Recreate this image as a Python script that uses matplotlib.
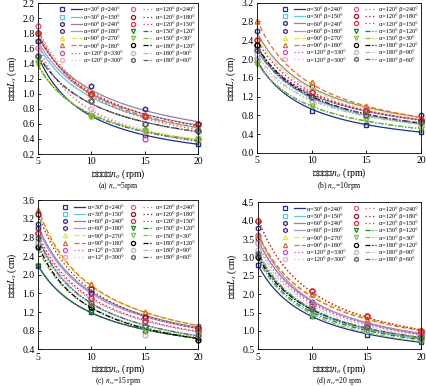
import numpy as np
import matplotlib
matplotlib.use("Agg")
import matplotlib.pyplot as plt
from matplotlib.lines import Line2D
from matplotlib.legend_handler import HandlerTuple

plt.rcParams['font.family'] = ['Liberation Serif', 'Noto Sans CJK SC', 'DejaVu Sans']
plt.rcParams['mathtext.fontset'] = 'stix'

# 油泵转速 (rpm)
speeds = [5, 10, 15, 20]

labels_std = [r"α=30° β=240°", r"α=30° β=150°", r"α=60° β=240°", r"α=60° β=180°",
              r"α=90° β=270°", r"α=90° β=180°", r"α=120° β=330°", r"α=120° β=300°",
              r"α=120° β=240°", r"α=120° β=180°", r"α=120° β=150°", r"α=150° β=120°",
              r"α=150° β=30°", r"α=180° β=120°", r"α=180° β=90°", r"α=180° β=60°"]
labels_c = list(labels_std)
labels_c[6] = r"α=12° β=330°"
labels_c[7] = r"α=12° β=300°"

# 水段长 Ls (cm), 16 series per panel
ls_a = [[1.5, 0.7, 0.45, 0.33], [1.6, 1.0, 0.7, 0.53], [1.7, 1.1, 0.8, 0.6], [1.7, 1.0, 0.7, 0.6],
        [1.4, 0.7, 0.5, 0.4], [1.8, 1.0, 0.7, 0.55], [1.6, 0.9, 0.4, 0.4], [1.6, 0.8, 0.5, 0.4],
        [1.9, 1.0, 0.7, 0.6], [1.8, 1.0, 0.7, 0.6], [1.8, 1.0, 0.7, 0.5], [1.4, 0.7, 0.5, 0.38],
        [1.4, 0.7, 0.5, 0.4], [1.5, 0.9, 0.6, 0.5], [1.5, 0.9, 0.6, 0.5], [1.5, 0.9, 0.6, 0.5]]
ls_b = [[2.0, 0.9, 0.6, 0.45], [2.2, 1.2, 0.8, 0.6], [2.6, 1.4, 0.9, 0.8], [2.2, 1.2, 0.9, 0.7],
        [2.4, 1.4, 1.0, 0.7], [2.8, 1.5, 1.0, 0.75], [2.2, 1.3, 0.9, 0.7], [2.0, 1.1, 0.8, 0.6],
        [2.4, 1.3, 0.9, 0.7], [2.3, 1.2, 0.9, 0.7], [2.4, 1.3, 0.9, 0.7], [1.9, 1.0, 0.7, 0.5],
        [1.9, 1.0, 0.7, 0.5], [2.3, 1.2, 0.8, 0.65], [2.1, 1.1, 0.8, 0.6], [2.2, 1.2, 0.8, 0.65]]
ls_c = [[2.2, 1.2, 0.8, 0.65], [2.8, 1.4, 0.9, 0.7], [3.1, 1.6, 1.1, 0.9], [3.0, 1.6, 1.1, 0.85],
        [3.3, 1.8, 1.2, 0.9], [3.4, 1.8, 1.2, 0.9], [2.9, 1.5, 1.0, 0.8], [2.7, 1.4, 0.7, 0.7],
        [2.9, 1.4, 1.0, 0.8], [3.3, 1.7, 1.1, 0.85], [2.9, 1.5, 1.0, 0.8], [2.2, 1.2, 0.8, 0.65],
        [2.6, 1.3, 0.8, 0.7], [2.6, 1.3, 0.9, 0.6], [2.7, 1.4, 0.9, 0.7], [2.8, 1.4, 0.9, 0.7]]
ls_d = [[2.8, 1.4, 0.9, 0.7], [3.1, 1.6, 1.0, 0.8], [3.5, 1.8, 1.2, 0.95], [3.8, 1.7, 1.2, 0.95],
        [3.6, 2.0, 1.4, 1.0], [3.6, 2.0, 1.3, 1.0], [3.4, 1.7, 1.2, 0.9], [3.4, 1.6, 1.1, 0.9],
        [3.6, 1.7, 1.2, 0.9], [4.0, 2.1, 1.4, 1.0], [4.0, 2.1, 1.4, 1.0], [3.1, 1.4, 1.0, 0.8],
        [3.0, 1.4, 1.0, 0.7], [3.0, 1.6, 1.1, 0.8], [3.2, 1.6, 1.1, 0.8], [3.1, 1.6, 1.1, 0.8]]

marker_colors = ['#1f2f8f', '#5fc8e0', '#3a2a7a', '#4b2a8a', '#e8e040', '#e07020', '#c050c0', '#f0a8b8',
                 '#e06080', '#8a1a2a', '#e03040', '#208020', '#80c040', '#000000', '#b8b8b8', '#606060']
line_colors = ['#1f2f8f', '#5fc8e0', '#8888a0', '#b090d0', '#e8e040', '#e07020', '#c050c0', '#f0a8b8',
               '#e06080', '#8a1a2a', '#e03040', '#208020', '#80c040', '#000000', '#b8b8b8', '#606060']
markers = ['s', 's', 'h', 'h', '^', '^', 'o', 'o', 'o', 'o', 'o', 'v', 'v', 'o', 'o', 'h']
dd = (0, (4, 1.5, 1, 1.5, 1, 1.5))
styles = ['-', '-', '-', '-', (0, (4, 2)), (0, (4, 2)), (0, (1, 2)), (0, (1, 2)),
          (0, (1, 2)), (0, (1, 2)), (0, (1, 2)), (0, (4, 1.5, 1, 1.5)), (0, (4, 1.5, 1, 1.5)),
          (0, (4, 1.5, 1, 1.5)), dd, dd]

panels = [
    (ls_a, labels_std, [0.089, 0.601, 0.375, 0.391], (0.2, 2.2), np.arange(0.2, 2.21, 0.2), 0.518, "(a) $n_w$=5rpm"),
    (ls_b, labels_std, [0.602, 0.604, 0.384, 0.389], (0.0, 3.2), np.arange(0.0, 3.21, 0.4), 0.518, "(b) $n_w$=10rpm"),
    (ls_c, labels_c, [0.089, 0.095, 0.375, 0.386], (0.4, 3.6), np.arange(0.4, 3.61, 0.4), 0.012, "(c) $n_w$=15 rpm"),
    (ls_d, labels_std, [0.604, 0.095, 0.382, 0.381], (0.5, 4.5), np.arange(0.5, 4.51, 0.5), 0.012, "(d) $n_w$=20 rpm"),
]

fig = plt.figure(figsize=(4.27, 3.86), dpi=100)
xs = np.array(speeds, dtype=float)
xfit = np.linspace(5, 20, 100)

for data, labels, rect, ylim, yticks, cap_y, caption in panels:
    ax = fig.add_axes(rect)
    handles = []
    for i, vals in enumerate(data):
        vals = np.array(vals)
        # power-law trend line through the measured points
        b, loga = np.polyfit(np.log(xs), np.log(vals), 1)
        ax.plot(xfit, np.exp(loga) * xfit ** b, color=line_colors[i], ls=styles[i], lw=0.9)
        ax.plot(xs, vals, ls='none', marker=markers[i], ms=3.5, mfc='none',
                mec=marker_colors[i], mew=1.0, clip_on=False)
        hm = Line2D([], [], ls='none', marker=markers[i], ms=3, mfc='none', mec=marker_colors[i], mew=0.9)
        hl = Line2D([], [], color=line_colors[i], ls=styles[i], lw=0.9)
        handles.append((hm, hl))
    ax.set_xlim(5, 20)
    ax.set_ylim(*ylim)
    ax.set_xticks([5, 10, 15, 20])
    ax.set_yticks(yticks)
    ax.set_yticklabels(["%.1f" % v for v in yticks])
    ax.tick_params(direction='in', labelsize=7, length=2.5, width=0.6, pad=2.5)
    for s in ax.spines.values():
        s.set_linewidth(0.6)
    ax.set_xlabel("油泵转速$n_o$ (rpm)", fontsize=7, labelpad=0.5)
    ax.set_ylabel("水段长$L_s$ (cm)", fontsize=7, labelpad=2)
    ax.legend(handles, labels, handler_map={tuple: HandlerTuple(ndivide=None, pad=0.6)},
              loc='upper right', ncol=2, fontsize=4.5, frameon=False, handlelength=4.0,
              columnspacing=0.8, labelspacing=0.25, handletextpad=0.4, borderaxespad=0.2)
    bbox = ax.get_position()
    fig.text(bbox.x0 + bbox.width / 2, cap_y, caption, ha='center', va='center', fontsize=5.5)

fig.savefig("out.png", dpi=100)
